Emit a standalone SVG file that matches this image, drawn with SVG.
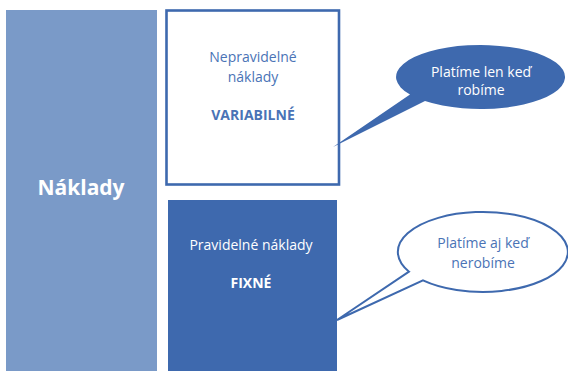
<svg xmlns="http://www.w3.org/2000/svg" width="568" height="371" viewBox="0 0 568 371">
<style>
text{font-family:"Open Sans","Noto Sans",sans-serif;text-anchor:middle}
.t{font-size:14px}
.b{font-size:14px;font-weight:bold}
.blue{fill:#4a73b6}
.white{fill:#ffffff}
</style>
<rect width="568" height="371" fill="#ffffff"/>
<g id="naklady">
<rect x="6" y="10" width="151" height="361" fill="#7a9ac8"/>
<text x="81" y="195" class="white" style="font-size:21px;font-weight:bold">Náklady</text>
</g>
<g id="variabilne">
<rect x="166.5" y="10.5" width="172.5" height="174" fill="#ffffff" stroke="#3e69ae" stroke-width="2.6"/>
<text x="253" y="62" class="t blue">Nepravidelné</text>
<text x="253" y="82" class="t blue">náklady</text>
<text x="253" y="120" class="b blue">VARIABILNÉ</text>
</g>
<g id="fixne">
<rect x="168" y="200" width="169" height="171" fill="#3e69ae"/>
<text x="251" y="250" class="t white">Pravidelné náklady</text>
<text x="251" y="288" class="b white">FIXNÉ</text>
</g>
<g id="connectors">
<g id="callout1">
<path d="M 410 94.6 L 333 147 L 425 101.1 A 84.5 32 0 1 0 410 94.6 Z" fill="#3e69ae"/>
<text x="481" y="77" class="t white">Platíme len keď</text>
<text x="481" y="95" class="t white">robíme</text>
</g>
<g id="callout2">
<path d="M 409 271.7 L 337 320 L 423 280.3 A 85 40 0 1 0 409 271.7 Z" fill="#ffffff" stroke="#3e69ae" stroke-width="2"/>
<text x="483" y="248" class="t blue">Platíme aj keď</text>
<text x="483" y="268" class="t blue">nerobíme</text>
</g>
</g>
</svg>
